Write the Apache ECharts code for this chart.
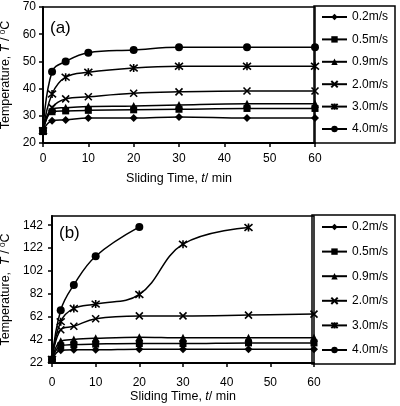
<!DOCTYPE html>
<html>
<head>
<meta charset="utf-8">
<script src="https://cdn.jsdelivr.net/npm/echarts@6/dist/echarts.min.js"></script>
<style>
  html, body { margin: 0; padding: 0; background: #fff; }
  #chart { width: 400px; height: 406px; }
</style>
</head>
<body>
<div id="chart"></div>
<script>
// sliding speeds (legend)
const speeds = ['0.2m/s', '0.5m/s', '0.9m/s', '2.0m/s', '3.0m/s', '4.0m/s'];

// (a) sliding time, min
const timesA = [0, 2, 5, 10, 20, 30, 45, 60];
const tempA02 = [24.5, 28.2, 28.5, 29.2, 29.2, 29.6, 29.2, 29.2];
const tempA05 = [24.2, 31.5, 31.8, 32.0, 32.2, 32.4, 32.7, 32.7];
const tempA09 = [24.5, 32.5, 33.0, 33.4, 33.6, 34.0, 34.4, 34.4];
const tempA20 = [24.5, 33.0, 36.2, 37.0, 38.3, 38.8, 39.1, 39.1];
const tempA30 = [24.5, 38.0, 44.2, 46.0, 47.6, 48.2, 48.2, 48.2];
const tempA40 = [24.5, 46.2, 50.0, 53.2, 54.2, 55.2, 55.2, 55.2];

// (b)
const timesB = [0, 2, 5, 10, 20, 30, 45, 60];
const tempB02 = [25, 33.0, 33.5, 33.5, 34.0, 34.0, 34.0, 34.0];
const tempB05 = [25, 37.0, 38.0, 38.5, 39.0, 39.0, 39.5, 39.5];
const tempB09 = [25, 41.0, 42.5, 43.5, 44.5, 44.0, 44.0, 44.0];
const tempB20 = [25, 51.0, 54.0, 60.5, 63.0, 63.0, 63.7, 64.6];
const tempB30 = [25, 58.0, 69.5, 73.3, 81.7, 125.5, 140.0];
const tempB40 = [25, 68.0, 90.0, 115.0, 140.5];

const yTicksB = [22, 42, 62, 82, 102, 122, 142];

const FONT = 'Liberation Sans, Arial, sans-serif';
const xPath = 'path://M0,0L10,10M10,0L0,10';
const starPath = 'path://M0,0L10,10M10,0L0,10M5,-1L5,11';
const symbols = ['diamond', 'rect', 'triangle', xPath, starPath, 'circle'];
const symbolSizes = [8, 7, 8, 7, 8, 8];
const strokes = [0, 0, 0, 1.6, 1.6, 0];

const zip = (xs, ys) => ys.map((y, i) => [xs[i], y]);

const makeSeries = (idx, times, temps) => temps.map((t, i) => ({
  name: speeds[i],
  type: 'line',
  xAxisIndex: idx,
  yAxisIndex: idx,
  data: zip(times, t),
  smooth: 0.4,
  symbol: symbols[i],
  symbolSize: symbolSizes[i],
  showAllSymbol: true,
  lineStyle: { color: '#000', width: 1.5 },
  itemStyle: { color: '#000', borderColor: '#000', borderWidth: strokes[i] },
  emphasis: { disabled: true },
  z: 3
}));

const axisCommon = {
  axisLine: { onZero: false, lineStyle: { color: '#000', width: 2 } },
  axisTick: { inside: false, length: 4, lineStyle: { color: '#000', width: 1.5 } },
  splitLine: { show: false },
  nameLocation: 'middle',
  nameTextStyle: { color: '#000', fontSize: 12.5, fontFamily: FONT,
    rich: {
      i: { fontStyle: 'italic', fontSize: 12.5, fontFamily: FONT, color: '#000' },
      s: { fontSize: 8, fontFamily: FONT, color: '#000', verticalAlign: 'top' }
    } }
};

const label = (margin) => ({ color: '#000', fontSize: 12, fontFamily: FONT, margin: margin });

const legendCommon = {
  orient: 'vertical',
  itemWidth: 25,
  itemHeight: 8,
  padding: 0,
  data: speeds,
  selectedMode: false,
  textStyle: { color: '#000', fontSize: 12, fontFamily: FONT, lineHeight: 14 }
};

const chart = echarts.init(document.getElementById('chart'), null, { renderer: 'canvas' });

chart.setOption({
  animation: false,
  backgroundColor: '#fff',
  grid: [
    { left: 43, right: 85, top: 7, bottom: 263, show: true, borderColor: '#000', borderWidth: 1.5, outerBoundsMode: 'none' },
    { left: 52, right: 86, top: 216, bottom: 43, show: true, borderColor: '#000', borderWidth: 1.5, outerBoundsMode: 'none' }
  ],
  xAxis: [
    Object.assign({}, axisCommon, { type: 'value', gridIndex: 0, min: 0, max: 60, interval: 10,
      name: 'Sliding Time, {i|t}/ min', nameGap: 29, axisLabel: label(10) }),
    Object.assign({}, axisCommon, { type: 'value', gridIndex: 1, min: 0, max: 60, interval: 10,
      name: 'Sliding Time, {i|t}/ min', nameGap: 27, axisLabel: label(14) })
  ],
  yAxis: [
    Object.assign({}, axisCommon, { type: 'value', gridIndex: 0, min: 20, max: 70, interval: 10,
      name: 'Temperature, {i|T} / {s|0}C', nameGap: 29, axisLabel: label(7) }),
    Object.assign({}, axisCommon, { type: 'value', gridIndex: 1, min: 22, max: 150,
      name: 'Temperature,  {i|T} / {s|0}C', nameGap: 37,
      axisLabel: Object.assign(label(9), { customValues: yTicksB }),
      axisTick: { inside: false, length: 4, customValues: yTicksB, lineStyle: { color: '#000', width: 1.5 } } })
  ],
  legend: [
    Object.assign({}, legendCommon, { left: 321, top: 10, itemGap: 8.4 }),
    Object.assign({}, legendCommon, { left: 321, top: 220, itemGap: 10.6 })
  ],
  graphic: [
    { type: 'rect', shape: { x: 314, y: 6, width: 81, height: 137 }, style: { fill: 'none', stroke: '#000', lineWidth: 1.5 }, z: 1 },
    { type: 'rect', shape: { x: 312, y: 215, width: 83, height: 149 }, style: { fill: 'none', stroke: '#000', lineWidth: 1.5 }, z: 1 },
    { type: 'text', left: 50, top: 20, style: { text: '(a)', fontSize: 17, fontFamily: FONT, fill: '#000' } },
    { type: 'text', left: 59, top: 225, style: { text: '(b)', fontSize: 17, fontFamily: FONT, fill: '#000' } }
  ],
  series: [].concat(
    makeSeries(0, timesA, [tempA02, tempA05, tempA09, tempA20, tempA30, tempA40]),
    makeSeries(1, timesB, [tempB02, tempB05, tempB09, tempB20, tempB30, tempB40])
  )
});
</script>
</body>
</html>
